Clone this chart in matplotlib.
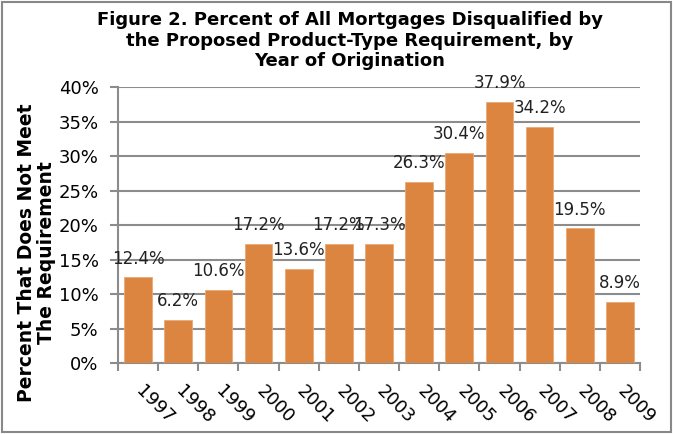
import matplotlib.pyplot as plt
from matplotlib.patches import Rectangle

years = ['1997', '1998', '1999', '2000', '2001', '2002', '2003',
         '2004', '2005', '2006', '2007', '2008', '2009']
pct = [12.4, 6.2, 10.6, 17.2, 13.6, 17.2, 17.3, 26.3, 30.4, 37.9, 34.2, 19.5, 8.9]

fig = plt.figure(figsize=(6.73, 4.34), dpi=100)
ax = fig.add_axes([0.1753, 0.1636, 0.7757, 0.6359])

x = range(len(years))
ax.bar(x, pct, width=0.69, color='#DB8540', edgecolor='#E9A873',
       linewidth=0.6, zorder=3)

# data labels, centred a little above each bar
for i, v in enumerate(pct):
    ax.annotate(f'{v}%', (i, v), xytext=(0, 10), textcoords='offset points',
                ha='center', va='baseline', fontsize=12, color='#222222',
                zorder=4, annotation_clip=False)

ax.set_ylim(0, 40)
ax.set_xlim(-0.5, len(years) - 0.5)
ax.set_yticks(range(0, 41, 5))
ax.set_yticklabels([f'{t}%' for t in range(0, 41, 5)], fontsize=13)
ax.yaxis.grid(True, color='#8c8c8c', linewidth=1.5, zorder=0)

# ticks between categories, year labels rotated below
ax.set_xticks([i - 0.5 for i in range(len(years) + 1)])
ax.set_xticklabels([])
for i, yr in enumerate(years):
    ax.annotate(yr, (i, 0), xytext=(5, -14), textcoords='offset points',
                rotation=-45, ha='left', va='top', rotation_mode='anchor',
                fontsize=13, annotation_clip=False)
ax.tick_params(axis='x', length=6, color='#8c8c8c', width=1.5)
ax.tick_params(axis='y', length=6, color='#8c8c8c', width=1.5, pad=8)

for side in ['top', 'right']:
    ax.spines[side].set_visible(False)
for side in ['left', 'bottom']:
    ax.spines[side].set_color('#8c8c8c')
    ax.spines[side].set_linewidth(1.5)

fig.text(0.054, 0.417, 'Percent That Does Not Meet\nThe Requirement',
         rotation=90, ha='center', va='center', fontsize=13.5,
         fontweight='bold', linespacing=1.1)

fig.text(0.52, 0.975, 'Figure 2. Percent of All Mortgages Disqualified by\n'
         'the Proposed Product-Type Requirement, by\nYear of Origination',
         ha='center', va='top', fontsize=13, fontweight='bold', linespacing=1.2)

fig.patches.append(Rectangle((0.003, 0.005), 0.994, 0.99, transform=fig.transFigure,
                             fill=False, edgecolor='#888888', linewidth=1.5))

fig.savefig('out.png', dpi=100)
